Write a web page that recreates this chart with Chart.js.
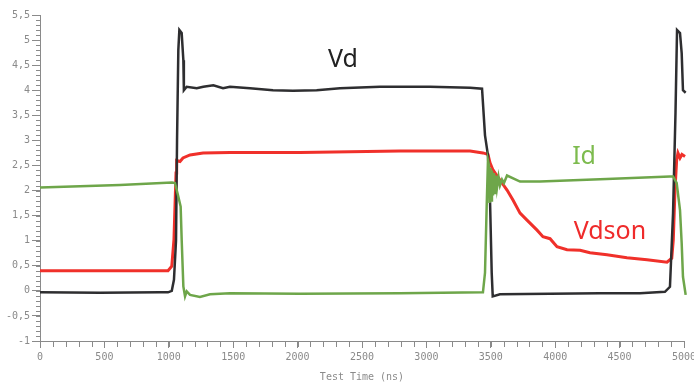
<!DOCTYPE html>
<html>
<head>
<meta charset="utf-8">
<script src="https://cdn.jsdelivr.net/npm/chart.js@4"></script>
<style>
  html, body { margin: 0; padding: 0; background: #fff; }
  #wrap { width: 694px; height: 385px; }
</style>
</head>
<body>
<div id="wrap"><canvas id="scopeChart"></canvas></div>
<script>
// Time axis in ns, values
const vdTime = [0, 466, 932, 994, 1023, 1040, 1056, 1064, 1074, 1082, 1100, 1113, 1117, 1139, 1217, 1268, 1346, 1421, 1475, 1630, 1809, 1964, 2148, 2329, 2640, 3028, 3339, 3432, 3455, 3478, 3494, 3507, 3515, 3571, 3960, 4348, 4658, 4852, 4891, 4915, 4934, 4946, 4969, 4982, 4992, 5013];
const vdValues = [-0.03, -0.04, -0.03, -0.03, 0.0, 0.22, 1.0, 3.0, 4.8, 5.2, 5.14, 4.6, 4.0, 4.07, 4.04, 4.07, 4.1, 4.04, 4.07, 4.04, 4.0, 3.99, 4.0, 4.04, 4.07, 4.07, 4.05, 4.03, 3.1, 2.7, 1.8, 0.36, -0.11, -0.07, -0.06, -0.05, -0.05, -0.02, 0.08, 1.55, 3.55, 5.2, 5.14, 4.74, 4.0, 3.95];

const idTime = [0, 621, 1025, 1048, 1071, 1092, 1100, 1113, 1126, 1139, 1165, 1242, 1320, 1475, 2019, 2795, 3439, 3455, 3468, 3478, 3486, 3490, 3498, 3502, 3509, 3517, 3525, 3533, 3540, 3548, 3560, 3571, 3587, 3602, 3626, 3727, 3882, 4400, 4891, 4915, 4943, 4969, 4982, 4992, 5013];
const idValues = [2.06, 2.11, 2.16, 2.15, 1.91, 1.68, 1.02, 0.09, -0.11, -0.01, -0.08, -0.12, -0.07, -0.05, -0.06, -0.05, -0.03, 0.36, 1.68, 2.6, 2.5, 1.75, 2.45, 1.8, 2.4, 1.9, 2.35, 1.95, 2.3, 2.05, 2.27, 2.1, 2.22, 2.15, 2.3, 2.18, 2.18, 2.23, 2.28, 2.28, 2.15, 1.61, 0.95, 0.28, -0.08];

const vdsonTime = [0, 994, 1023, 1040, 1056, 1061, 1087, 1110, 1165, 1266, 1475, 2019, 2795, 3339, 3439, 3478, 3494, 3517, 3571, 3626, 3672, 3727, 3781, 3859, 3905, 3960, 4014, 4092, 4193, 4270, 4402, 4557, 4713, 4868, 4905, 4917, 4930, 4943, 4953, 4969, 4984, 5008];
const vdsonValues = [0.40, 0.40, 0.49, 1.02, 2.35, 2.6, 2.58, 2.65, 2.71, 2.75, 2.76, 2.76, 2.79, 2.79, 2.75, 2.72, 2.55, 2.41, 2.21, 2.01, 1.81, 1.55, 1.41, 1.21, 1.08, 1.04, 0.88, 0.82, 0.81, 0.76, 0.72, 0.66, 0.62, 0.57, 0.65, 1.02, 2.01, 2.61, 2.75, 2.65, 2.72, 2.68];

// Axis ranges / tick steps
const xRange = [0, 5000];
const yRange = [-1, 5.5];
const xMajorStep = 500, xMinorStep = 100;
const yMajorStep = 0.5, yMinorStep = 0.1;
const xTitle = 'Test Time (ns)';

// Trace labels written on the plot (data coords)
const traceLabels = [
    { text: 'Vd', x: 2352, y: 4.61, color: '#222222' },
    { text: 'Id', x: 4224, y: 2.67, color: '#7dbb4e' },
    { text: 'Vdson', x: 4425, y: 1.18, color: '#ef2b2b' }
];

const toPoints = (ts, vs) => ts.map((t, i) => ({ x: t, y: vs[i] }));

const tickColor = '#8a8a8a';
const monoFont = { family: 'DejaVu Sans Mono', size: 10 };

// minor ticks + trace labels
const scopeDecor = {
    id: 'scopeDecor',
    afterDraw(chart) {
        const ctx = chart.ctx;
        const xs = chart.scales.x, ys = chart.scales.y;
        ctx.save();
        ctx.strokeStyle = tickColor;
        ctx.lineWidth = 1;
        ctx.beginPath();
        const nY = Math.round((yRange[1] - yRange[0]) / yMinorStep);
        for (let i = 0; i <= nY; i++) {
            const v = yRange[0] + i * yMinorStep;
            const py = Math.round(ys.getPixelForValue(v)) + 0.5;
            ctx.moveTo(xs.left - 4, py);
            ctx.lineTo(xs.left, py);
        }
        const nX = Math.round((xRange[1] - xRange[0]) / xMinorStep);
        for (let i = 0; i <= nX; i++) {
            const px = Math.round(xs.getPixelForValue(xRange[0] + i * xMinorStep)) + 0.5;
            ctx.moveTo(px, ys.bottom);
            ctx.lineTo(px, ys.bottom + 6);
        }
        ctx.stroke();

        ctx.font = '25px "Noto Sans"';
        ctx.textAlign = 'center';
        ctx.textBaseline = 'middle';
        traceLabels.forEach(l => {
            ctx.fillStyle = l.color;
            ctx.fillText(l.text, xs.getPixelForValue(l.x), ys.getPixelForValue(l.y));
        });
        ctx.restore();
    }
};

new Chart(document.getElementById('scopeChart').getContext('2d'), {
    type: 'line',
    data: {
        datasets: [{
            label: 'Id',
            data: toPoints(idTime, idValues),
            borderColor: '#6ea64a',
            borderWidth: 2.5
        }, {
            label: 'Vd',
            data: toPoints(vdTime, vdValues),
            borderColor: '#2e2e30',
            borderWidth: 2.5
        }, {
            label: 'Vdson',
            data: toPoints(vdsonTime, vdsonValues),
            borderColor: '#f0302a',
            borderWidth: 3
        }]
    },
    options: {
        responsive: true,
        maintainAspectRatio: false,
        animation: false,
        datasets: {
            line: { pointRadius: 0, tension: 0, fill: false, clip: 6 }
        },
        layout: { padding: { top: 15, right: 10, left: 0, bottom: 0 } },
        plugins: {
            legend: { display: false },
            tooltip: { enabled: false }
        },
        scales: {
            x: {
                type: 'linear',
                min: xRange[0],
                max: xRange[1],
                afterFit: s => { s.height = 44; s.paddingRight = 0; },
                border: { color: tickColor, width: 1 },
                grid: { drawOnChartArea: false, drawTicks: true, tickLength: 7, color: tickColor },
                ticks: { stepSize: xMajorStep, color: tickColor, font: monoFont, padding: 3, maxRotation: 0, callback: v => String(v) },
                title: { display: true, text: xTitle, color: tickColor, font: monoFont, padding: { top: 0, bottom: 2 } }
            },
            y: {
                min: yRange[0],
                max: yRange[1],
                afterFit: s => { s.width = 40; },
                border: { color: tickColor, width: 1 },
                grid: { drawOnChartArea: false, drawTicks: true, tickLength: 8, color: tickColor },
                ticks: {
                    stepSize: yMajorStep,
                    color: tickColor,
                    font: monoFont,
                    padding: 2,
                    callback: v => String(v).replace('.', ',')
                }
            }
        }
    },
    plugins: [scopeDecor]
});
</script>
</body>
</html>
